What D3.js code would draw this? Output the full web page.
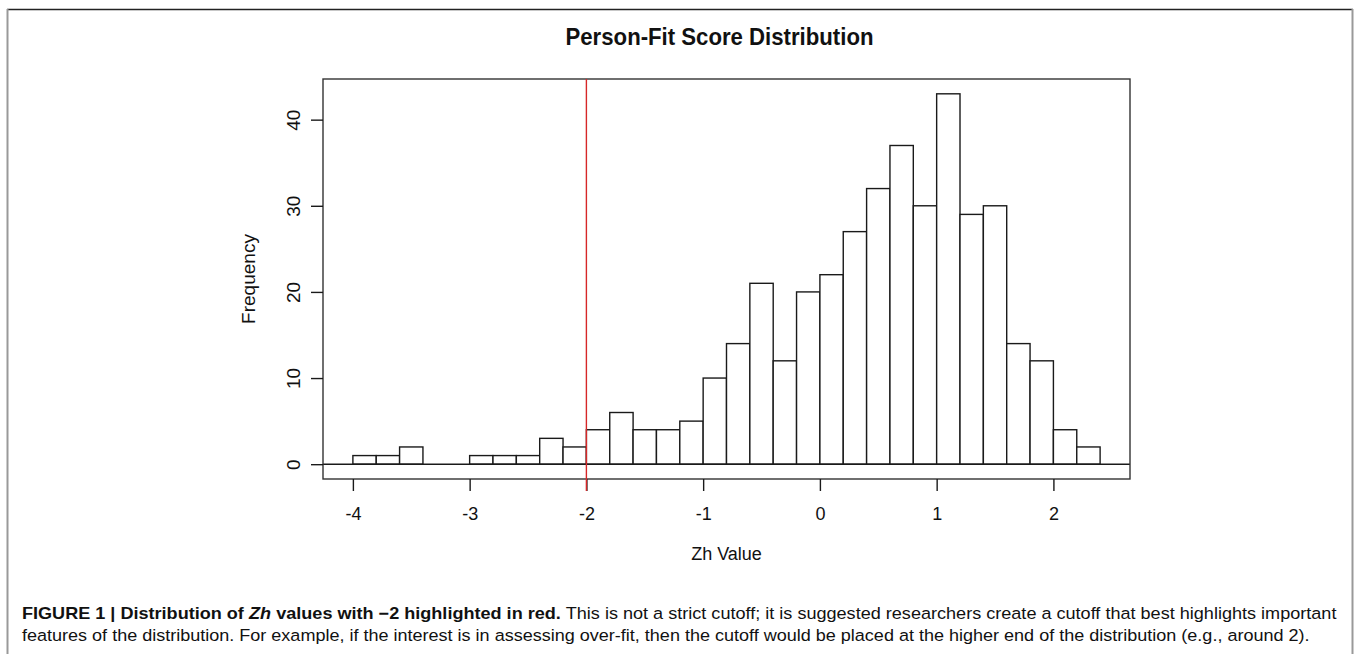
<!DOCTYPE html>
<html>
<head>
<meta charset="utf-8">
<script src="https://cdn.jsdelivr.net/npm/d3@7"></script>
<style>
  body { margin: 0; background: #fff; }
  text { font-family: "Liberation Sans", Arial, sans-serif; fill: #111; }
</style>
</head>
<body>
<div class="canvas"></div>
<script>
// histogram bins (left edges) and counts, width 0.2
const binStarts = [-4.0, -3.8, -3.6, -3.4, -3.2, -3.0, -2.8, -2.6, -2.4, -2.2,
    -2.0, -1.8, -1.6, -1.4, -1.2, -1.0, -0.8, -0.6, -0.4, -0.2,
    0.0, 0.2, 0.4, 0.6, 0.8, 1.0, 1.2, 1.4, 1.6, 1.8, 2.0, 2.2]
const counts = [1, 1, 2, 0, 0, 1, 1, 1, 3, 2,
    4, 6, 4, 4, 5, 10, 14, 21, 12, 20,
    22, 27, 32, 37, 30, 43, 29, 30, 14, 12, 4, 2]
const binWidth = 0.2
const xTicks = [-4, -3, -2, -1, 0, 1, 2]
const yTicks = [0, 10, 20, 30, 40]
const cutoff = -2

const data = binStarts.map((s, i) => ({ x0: s, x1: s + binWidth, value: counts[i] }))

const W = 1357, H = 654
const svg = d3.select('.canvas').append('svg').attr('width', W).attr('height', H)

svg.append('rect').attr('width', W).attr('height', H).attr('fill', '#fff')

// figure frame
svg.append('line').attr('x1', 7).attr('x2', 1353).attr('y1', 9.5).attr('y2', 9.5)
    .attr('stroke', '#222').attr('stroke-width', 1.5)
svg.append('line').attr('x1', 7.5).attr('x2', 7.5).attr('y1', 9).attr('y2', H)
    .attr('stroke', '#999').attr('stroke-width', 2)
svg.append('line').attr('x1', 1352.5).attr('x2', 1352.5).attr('y1', 9).attr('y2', H)
    .attr('stroke', '#999').attr('stroke-width', 2)

const margins = { top: 79, right: 227, bottom: 175, left: 323 }
const gWidth = W - margins.left - margins.right
const gHeight = H - margins.top - margins.bottom

const graph = svg.append('g').attr('transform', `translate(${margins.left}, ${margins.top})`)

// R style 4% range extension
const xmin = d3.min(binStarts), xmax = d3.max(binStarts) + binWidth
const xpad = (xmax - xmin) * 0.04
const ymax = d3.max(counts), ypad = ymax * 0.04

const x = d3.scaleLinear().domain([xmin - xpad, xmax + xpad]).range([0, gWidth])
const y = d3.scaleLinear().domain([-ypad, ymax + ypad]).range([gHeight, 0])

const stroke = '#1a1a1a'

graph.selectAll('rect.bar').data(data.filter(d => d.value > 0)).enter()
    .append('rect')
    .attr('class', 'bar')
    .attr('x', d => x(d.x0))
    .attr('width', d => x(d.x1) - x(d.x0))
    .attr('y', d => y(d.value))
    .attr('height', d => y(0) - y(d.value))
    .attr('fill', '#fff')
    .attr('stroke', stroke)
    .attr('stroke-width', 1.4)

// baseline at zero
graph.append('line').attr('x1', 0).attr('x2', gWidth).attr('y1', y(0)).attr('y2', y(0))
    .attr('stroke', stroke).attr('stroke-width', 1.4)

// box
graph.append('rect').attr('width', gWidth).attr('height', gHeight)
    .attr('fill', 'none').attr('stroke', '#333').attr('stroke-width', 1.4)

// axes
const xAxisGroup = graph.append('g').attr('transform', `translate(0, ${gHeight})`)
const yAxisGroup = graph.append('g')

xAxisGroup.call(d3.axisBottom(x).tickValues(xTicks).tickSize(12).tickPadding(16).tickFormat(d => d))
yAxisGroup.call(d3.axisLeft(y).tickValues(yTicks).tickSize(12))

xAxisGroup.select('.domain').remove()
yAxisGroup.select('.domain').remove()
graph.selectAll('.tick line').attr('stroke', stroke).attr('stroke-width', 1.4)
graph.selectAll('.tick text')
    .attr('font-family', '"Liberation Sans", Arial, sans-serif').attr('fill', '#111')
xAxisGroup.selectAll('text').attr('font-size', 18)
yAxisGroup.selectAll('.tick text')
    .attr('font-size', 19)
    .attr('x', null).attr('y', null).attr('dy', null)
    .attr('text-anchor', 'middle')
    .attr('transform', 'translate(-23, 0) rotate(-90)')

// cutoff line
graph.append('line')
    .attr('x1', x(cutoff)).attr('x2', x(cutoff))
    .attr('y1', 0).attr('y2', gHeight + 12)
    .attr('stroke', '#d62728').attr('stroke-width', 1.4)

// labels
svg.append('text').attr('x', margins.left + gWidth / 2 - 7).attr('y', 45)
    .attr('text-anchor', 'middle').attr('font-size', 24).attr('font-weight', 'bold')
    .attr('textLength', 308).attr('lengthAdjust', 'spacingAndGlyphs')
    .text('Person-Fit Score Distribution')

svg.append('text').attr('x', margins.left + gWidth / 2).attr('y', 560)
    .attr('text-anchor', 'middle').attr('font-size', 18)
    .text('Zh Value')

svg.append('text')
    .attr('transform', `translate(255, ${margins.top + gHeight / 2}) rotate(-90)`)
    .attr('text-anchor', 'middle').attr('font-size', 19)
    .text('Frequency')

// caption: pieces laid side by side, then squeezed to the narrow width of the original
function captionLine(yPos, pieces, target) {
    const g = svg.append('g')
    let cx = 0
    pieces.forEach(p => {
        const t = g.append('text')
            .attr('x', cx).attr('y', 0)
            .attr('font-size', 16.5)
            .attr('font-weight', p.bold ? 'bold' : 'normal')
            .attr('font-style', p.italic ? 'italic' : 'normal')
            .style('white-space', 'pre')
            .text(p.text)
        cx += t.node().getComputedTextLength()
    })
    g.attr('transform', `translate(22, ${yPos}) scale(${target / cx}, 1)`)
}

captionLine(619, [
    { text: 'FIGURE 1 | Distribution of ', bold: true },
    { text: 'Zh', bold: true, italic: true },
    { text: ' values with \u22122 highlighted in red.', bold: true },
    { text: ' This is not a strict cutoff; it is suggested researchers create a cutoff that best highlights important' }
], 1315)

captionLine(641, [
    { text: 'features of the distribution. For example, if the interest is in assessing over-fit, then the cutoff would be placed at the higher end of the distribution (e.g., around 2).' }
], 1289)
</script>
</body>
</html>
